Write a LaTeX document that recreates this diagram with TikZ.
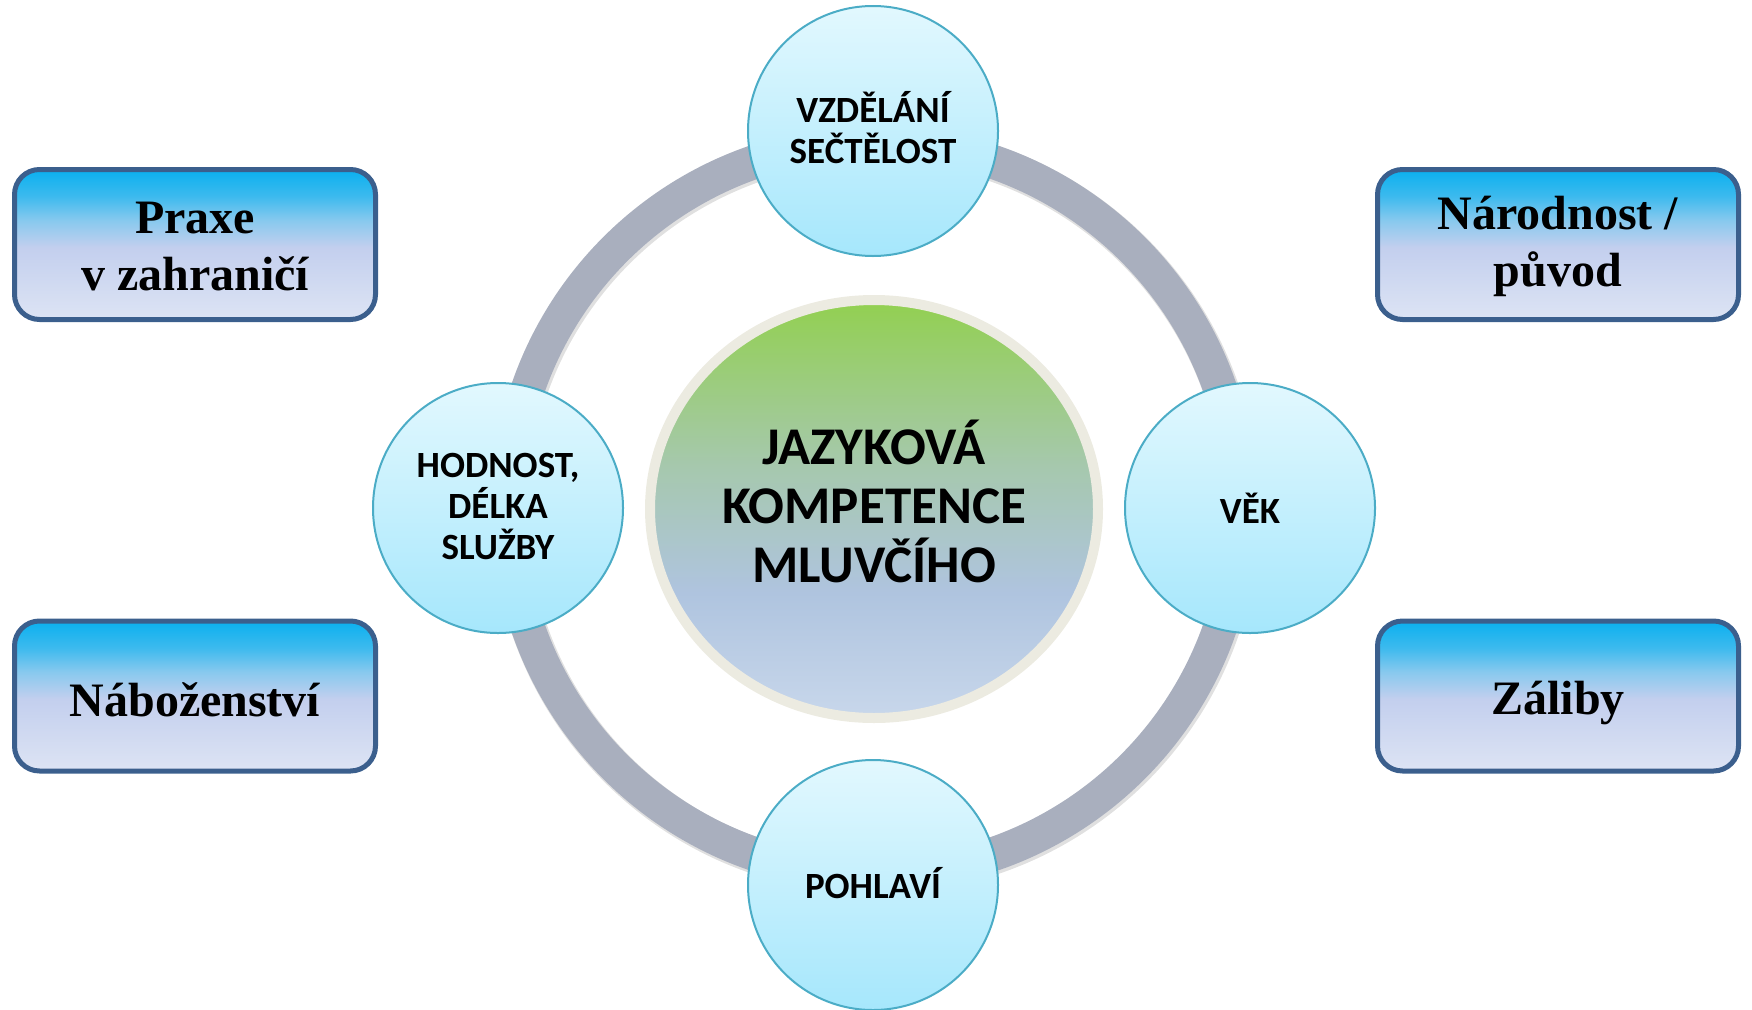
\documentclass[tikz,border=0pt]{standalone}
\usepackage{fontspec}
\newfontfamily\calibfont{Carlito}
\newfontfamily\timesfont{Liberation Serif}
\usetikzlibrary{shapes.geometric}

% colours
\definecolor{ringgray}{HTML}{A9AFBE}
\definecolor{rimcream}{HTML}{ECEBE1}
\definecolor{coreTop}{HTML}{92D050}
\definecolor{coreMid}{HTML}{A6C8AE}
\definecolor{coreLow}{HTML}{AFC4DF}
\definecolor{coreBot}{HTML}{C8D7EB}
\definecolor{bubTop}{HTML}{E2F8FE}
\definecolor{bubBot}{HTML}{A6E7FC}
\definecolor{bubEdge}{HTML}{4BACC6}
\definecolor{boxTop}{HTML}{0AB0EF}
\definecolor{boxHi}{HTML}{3DBAEE}
\definecolor{boxUp}{HTML}{88C9EE}
\definecolor{boxMid}{HTML}{C3CFEE}
\definecolor{boxBot}{HTML}{DDE4F4}
\definecolor{boxEdge}{HTML}{3B5F8D}

% vertical shadings (the 25bp..75bp band spans the filled shape)
\pgfdeclareverticalshading{coreshade}{100bp}{color(0bp)=(coreBot); color(25bp)=(coreBot); color(40bp)=(coreLow); color(55bp)=(coreMid); color(75bp)=(coreTop); color(100bp)=(coreTop)}
\pgfdeclareverticalshading{bubshade}{100bp}{color(0bp)=(bubBot); color(25bp)=(bubBot); color(75bp)=(bubTop); color(100bp)=(bubTop)}
\pgfdeclareverticalshading{boxshade}{100bp}{color(0bp)=(boxBot); color(25bp)=(boxBot); color(49bp)=(boxMid); color(58bp)=(boxUp); color(66bp)=(boxHi); color(75bp)=(boxTop); color(100bp)=(boxTop)}

\tikzset{
  ringline/.style={circle, draw=ringgray, line width=34pt, minimum size=732pt, inner sep=0pt},
  ringshadow/.style={circle, draw=black, draw opacity=0.12, line width=36pt, minimum size=732pt, inner sep=0pt},
  corenode/.style={ellipse, draw=rimcream, line width=10pt, shade, shading=coreshade,
    minimum width=448pt, minimum height=418pt, inner sep=0pt},
  coretext/.style={align=center, inner sep=0pt,
    font=\calibfont\bfseries\fontsize{53}{59}\selectfont},
  bubble/.style={circle, draw=bubEdge, line width=2pt, shade, shading=bubshade,
    minimum size=250pt, inner sep=0pt},
  bubtext/.style={align=center, inner sep=0pt,
    font=\calibfont\bfseries\fontsize{37}{41}\selectfont},
  infobox/.style={rectangle, rounded corners=25pt, draw=boxEdge, line width=5pt,
    shade, shading=boxshade, minimum width=361pt, minimum height=150pt, inner sep=0pt},
  boxtext/.style={align=center, inner sep=0pt,
    font=\timesfont\bfseries\fontsize{48}{57}\selectfont},
}

\begin{document}
\begin{tikzpicture}[x=1pt,y=-1pt]
  \useasboundingbox (0,0) rectangle (1752,1009);

  % ring linking the four factors, with a soft drop shadow
  \node[ringshadow] (ringsh) at (875.5,510) {};
  \node[ringline] (ring) at (874,508) {};

  % central topic
  \node[corenode] (core) at (874,509) {};
  \node[coretext, yshift=8pt] (coret) at (core.center) {JAZYKOVÁ\\KOMPETENCE\\MLUVČÍHO};

  % factors on the ring
  \node[bubble] (edu)  at (873,131) {};
  \node[bubble] (sex)  at (873,885) {};
  \node[bubble] (rank) at (498,508) {};
  \node[bubble] (age)  at (1250,508) {};
  \node[bubtext, yshift=3pt] (edut)  at (edu.center)  {VZDĚLÁNÍ\\SEČTĚLOST};
  \node[bubtext, yshift=2pt] (sext)  at (sex.center)  {POHLAVÍ};
  \node[bubtext, yshift=2pt] (rankt) at (rank.center) {HODNOST,\\DÉLKA\\SLUŽBY};
  \node[bubtext]             (aget)  at (age.center)  {VĚK};

  % further factors in the corners
  \node[infobox] (abroad)   at (195,244.5)  {};
  \node[infobox] (religion) at (195,696)    {};
  \node[infobox] (origin)   at (1558,244.5) {};
  \node[infobox] (hobbies)  at (1558,696)   {};
  \node[boxtext, yshift=-2pt] (abroadt)   at (abroad.center)   {Praxe\\v zahraničí};
  \node[boxtext, yshift=-4pt] (religiont) at (religion.center) {Náboženství};
  \node[boxtext, yshift=-2pt] (origint)   at (origin.center)   {Národnost /\\původ};
  \node[boxtext, yshift=-7pt] (hobbiest)  at (hobbies.center)  {Záliby};
\end{tikzpicture}
\end{document}
